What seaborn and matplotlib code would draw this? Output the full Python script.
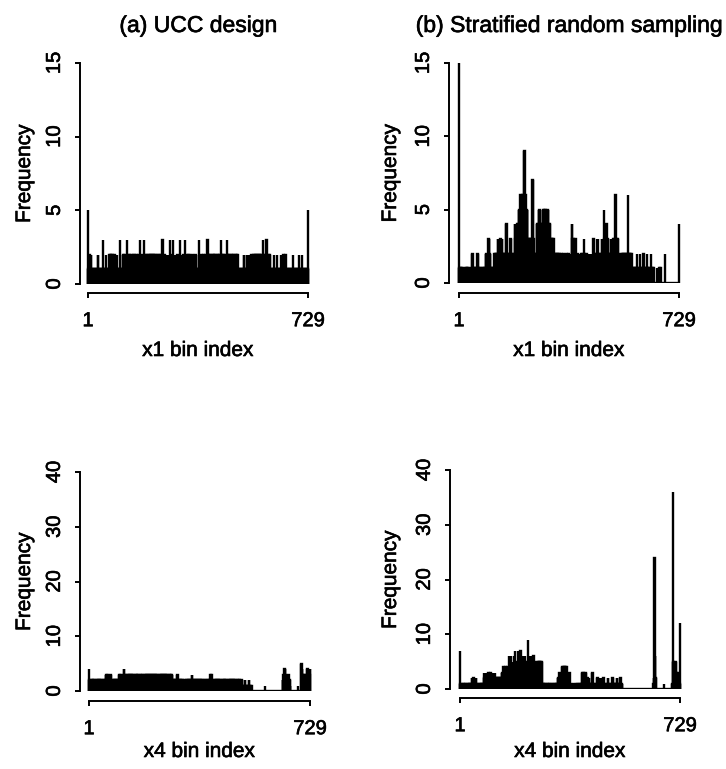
import numpy as np
import pandas as pd
import matplotlib
matplotlib.use("Agg")
import matplotlib.pyplot as plt
import matplotlib.patheffects as pe
import seaborn as sns

N_BINS = 729

# Bin frequencies, run-length encoded: (first bin of run, frequency)
ucc_x1_runs = [
    (1, 5), (2, 1), (5, 2), (8, 1), (10, 2), (12, 1), (33, 2), (35, 1), (50, 3), (51, 1),
    (60, 2), (61, 1), (72, 2), (76, 1), (79, 2), (83, 1), (86, 2), (90, 1), (98, 2), (99, 1),
    (107, 3), (108, 1), (116, 2), (119, 1), (121, 2), (123, 1), (129, 3), (130, 1), (135, 2),
    (140, 1), (143, 2), (148, 1), (151, 2), (156, 1), (159, 2), (162, 1), (168, 2), (170, 1),
    (173, 3), (174, 1), (176, 2), (180, 1), (186, 3), (187, 1), (189, 2), (198, 1), (200, 2),
    (212, 1), (214, 2), (226, 1), (229, 2), (238, 1), (240, 2), (245, 1), (248, 3), (249, 1),
    (253, 2), (256, 1), (262, 2), (264, 1), (268, 2), (270, 1), (272, 3), (273, 1), (277, 2),
    (280, 1), (283, 3), (284, 1), (288, 2), (290, 1), (296, 2), (298, 1), (305, 3), (306, 1),
    (311, 2), (313, 1), (317, 2), (319, 1), (322, 3), (323, 1), (326, 2), (328, 1), (334, 2),
    (340, 1), (344, 2), (350, 1), (355, 2), (360, 1), (369, 3), (370, 1), (374, 2), (378, 1),
    (381, 2), (385, 1), (388, 2), (393, 1), (396, 3), (397, 1), (399, 2), (410, 1), (412, 2),
    (425, 1), (427, 2), (438, 1), (440, 3), (441, 1), (443, 2), (452, 1), (455, 2), (459, 1),
    (460, 3), (461, 1), (463, 2), (472, 1), (474, 2), (486, 1), (488, 2), (497, 1), (517, 2),
    (519, 1), (526, 2), (528, 1), (533, 2), (535, 1), (540, 2), (545, 1), (547, 2), (556, 1),
    (558, 2), (566, 1), (569, 2), (578, 1), (581, 3), (582, 1), (584, 2), (589, 1), (592, 3),
    (593, 1), (598, 2), (604, 1), (617, 2), (618, 1), (626, 2), (627, 1), (639, 2), (640, 1),
    (648, 2), (649, 1), (655, 2), (656, 1), (680, 2), (681, 1), (700, 2), (701, 1), (708, 2),
    (709, 1), (729, 5),
]

srs_x1_runs = [
    (1, 15), (2, 1), (15, 0), (20, 1), (36, 0), (40, 1), (45, 2), (47, 1), (62, 2), (64, 1),
    (74, 0), (78, 1), (90, 2), (93, 1), (97, 2), (99, 3), (102, 2), (105, 1), (118, 2),
    (130, 3), (132, 2), (137, 3), (139, 2), (143, 3), (145, 2), (150, 1), (152, 2), (157, 4),
    (159, 2), (166, 1), (168, 2), (171, 3), (173, 2), (180, 1), (182, 2), (186, 4), (188, 3),
    (195, 4), (199, 5), (205, 6), (208, 5), (210, 6), (217, 9), (219, 6), (222, 5), (228, 3),
    (244, 7), (246, 3), (249, 2), (259, 4), (265, 5), (271, 4), (281, 5), (289, 4), (293, 5),
    (297, 4), (302, 3), (315, 2), (335, 1), (340, 2), (342, 1), (347, 2), (349, 1), (356, 2),
    (358, 1), (362, 2), (364, 1), (368, 2), (370, 1), (375, 4), (377, 3), (381, 2), (383, 1),
    (387, 3), (388, 1), (393, 2), (395, 1), (398, 2), (400, 1), (405, 2), (407, 1), (410, 2),
    (412, 1), (415, 3), (416, 2), (418, 1), (423, 2), (425, 1), (428, 2), (430, 1), (434, 2),
    (436, 1), (440, 2), (442, 1), (446, 3), (447, 2), (450, 1), (454, 2), (457, 3), (458, 2),
    (461, 3), (462, 2), (466, 1), (468, 2), (474, 3), (476, 2), (481, 5), (482, 3), (485, 4),
    (486, 2), (489, 4), (490, 3), (494, 2), (503, 3), (505, 2), (510, 3), (519, 6), (520, 3),
    (527, 2), (531, 0), (533, 1), (536, 2), (560, 6), (561, 2), (573, 1), (590, 2), (591, 1),
    (598, 0), (601, 2), (602, 1), (612, 2), (613, 1), (622, 2), (623, 1), (633, 0), (637, 2),
    (638, 1), (646, 0), (657, 1), (658, 0), (664, 1), (665, 0), (668, 1), (669, 0), (682, 2),
    (683, 0), (729, 4),
]

ucc_x4_runs = [
    (1, 4), (2, 2), (6, 1), (8, 2), (14, 1), (16, 2), (22, 1), (24, 2), (30, 1), (31, 2),
    (37, 1), (39, 2), (45, 1), (47, 2), (57, 3), (60, 2), (62, 3), (64, 2), (72, 3), (74, 1),
    (76, 2), (86, 1), (88, 2), (100, 3), (103, 2), (105, 3), (107, 2), (112, 3), (116, 4),
    (118, 3), (124, 2), (127, 3), (135, 2), (138, 3), (150, 2), (152, 3), (167, 2), (169, 3),
    (181, 2), (183, 3), (198, 2), (200, 3), (214, 2), (216, 3), (230, 2), (232, 3), (247, 2),
    (249, 3), (262, 2), (264, 3), (276, 2), (292, 3), (294, 2), (300, 1), (302, 2), (310, 1),
    (313, 2), (318, 1), (320, 2), (340, 3), (342, 2), (350, 1), (352, 2), (366, 1), (368, 2),
    (378, 1), (380, 2), (388, 1), (391, 2), (401, 3), (406, 2), (410, 1), (413, 2), (436, 1),
    (438, 2), (455, 1), (458, 2), (472, 1), (474, 2), (487, 1), (490, 2), (500, 1), (503, 2),
    (505, 1), (515, 2), (517, 1), (527, 2), (529, 1), (537, 0), (580, 1), (581, 0), (639, 2),
    (642, 3), (645, 4), (648, 3), (652, 2), (656, 3), (659, 2), (663, 1), (665, 0), (690, 1),
    (691, 0), (700, 5), (702, 4), (704, 3), (712, 2), (715, 3), (720, 4), (723, 3), (728, 4),
]

srs_x4_runs = [
    (1, 7), (2, 1), (9, 0), (12, 1), (22, 0), (25, 1), (40, 2), (42, 1), (46, 2), (48, 1),
    (54, 2), (56, 1), (60, 0), (63, 1), (80, 3), (81, 2), (88, 3), (89, 2), (95, 3), (96, 2),
    (102, 3), (103, 2), (111, 3), (112, 2), (116, 3), (117, 2), (140, 3), (145, 4), (146, 3),
    (152, 4), (153, 3), (156, 2), (158, 4), (159, 3), (163, 6), (164, 3), (167, 4), (170, 6),
    (171, 3), (174, 4), (176, 5), (177, 3), (180, 6), (181, 4), (184, 7), (185, 4), (188, 5),
    (190, 3), (192, 7), (193, 4), (197, 6), (198, 4), (201, 7), (202, 4), (205, 5), (207, 3),
    (210, 6), (211, 4), (214, 5), (216, 6), (217, 3), (220, 5), (222, 4), (226, 9), (227, 4),
    (230, 6), (231, 3), (234, 5), (236, 6), (237, 3), (240, 5), (242, 4), (244, 6), (245, 3),
    (248, 5), (249, 3), (252, 5), (253, 4), (256, 5), (262, 4), (264, 5), (273, 1),
    (285, 0), (288, 1), (300, 0), (303, 1), (310, 0), (313, 1), (325, 2), (330, 3), (334, 2),
    (339, 4), (354, 3), (357, 2), (362, 3), (364, 1), (370, 0), (374, 1), (380, 0), (384, 1),
    (393, 0), (396, 1), (405, 3), (407, 1), (410, 3), (412, 2), (416, 3), (418, 1), (423, 2),
    (425, 1), (428, 2), (430, 1), (438, 3), (440, 1), (445, 0), (448, 1), (455, 2), (457, 1),
    (460, 2), (462, 1), (467, 2), (469, 1), (475, 2), (477, 1), (482, 0), (485, 1), (490, 2),
    (492, 1), (498, 0), (502, 1), (506, 2), (508, 1), (520, 2), (522, 1), (531, 2), (533, 1),
    (538, 0), (641, 1), (643, 2), (645, 24), (646, 6), (648, 2), (650, 0), (677, 1), (678, 0),
    (703, 1), (705, 36), (706, 5), (710, 4), (713, 5), (716, 3), (720, 2), (723, 3), (727, 1),
    (729, 12),
]

panel_titles = ["(a) UCC design", "(b) Stratified random sampling", None, None]
x_labels = ["x1 bin index", "x1 bin index", "x4 bin index", "x4 bin index"]
y_label = "Frequency"
y_ticks_x1 = [0, 5, 10, 15]
y_ticks_x4 = [0, 10, 20, 30, 40]
x_ticks = [1, 729]
x_tick_labels = ["1", "729"]


def expand_runs(runs):
    runs = sorted(runs)
    starts = [s for s, _ in runs] + [N_BINS + 1]
    counts = [c for _, c in runs]
    return np.repeat(counts, np.diff(starts))


sns.set_style("ticks")
plt.rcParams["font.family"] = ["Liberation Sans", "DejaVu Sans"]
plt.rcParams["axes.edgecolor"] = "black"
plt.rcParams["xtick.color"] = "black"
plt.rcParams["ytick.color"] = "black"
plt.rcParams["text.color"] = "black"
plt.rcParams["axes.labelcolor"] = "black"

W, H = 726, 769
fig = plt.figure(figsize=(W / 100, H / 100), dpi=100)

# Panel geometry in pixels: bin 1 / bin 729 positions, zero line, top tick,
# left spine, bottom spine, y-label anchor, x-label top.
layout = [
    dict(x1=88, x2=308, y0=284, yt=63, sl=80, sb=293, yl=34, xl=341),
    dict(x1=459, x2=679, y0=283, yt=63, sl=449, sb=293, yl=400, xl=341),
    dict(x1=89, x2=310, y0=691, yt=472, sl=80, sb=701, yl=34, xl=742),
    dict(x1=460, x2=680, y0=689, yt=470, sl=450, sb=698, yl=400, xl=742),
]
series = [ucc_x1_runs, srs_x1_runs, ucc_x4_runs, srs_x4_runs]
yticks_list = [y_ticks_x1, y_ticks_x1, y_ticks_x4, y_ticks_x4]
heavy = [pe.withStroke(linewidth=0.45, foreground="black")]

for i in range(4):
    g = layout[i]
    ticks = yticks_list[i]
    top_val = ticks[-1]
    px_per_unit = (g["y0"] - g["yt"]) / top_val
    ylim_top = top_val * 1.035
    top_px = g["y0"] - ylim_top * px_per_unit
    left_px, right_px = g["x1"] - 3, g["x2"] + 3
    px_per_bin = (g["x2"] - g["x1"]) / (N_BINS - 1)
    xpad = 3 / px_per_bin

    ax = fig.add_axes([left_px / W, 1 - g["y0"] / H,
                       (right_px - left_px) / W, (g["y0"] - top_px) / H])

    df = pd.DataFrame({"bin": np.arange(1, N_BINS + 1),
                       "freq": expand_runs(series[i])})
    sns.histplot(data=df, x="bin", weights="freq", discrete=True,
                 color="black", edgecolor="black", linewidth=1.7, alpha=1,
                 ax=ax)

    ax.set_xlim(1 - xpad, N_BINS + xpad)
    ax.set_ylim(0, ylim_top)
    ax.set_xticks(x_ticks)
    ax.set_yticks(ticks)

    sns.despine(ax=ax, offset={"left": (left_px - g["sl"]) * 0.72,
                               "bottom": (g["sb"] - g["y0"]) * 0.72},
                trim=True)
    for side in ("left", "bottom"):
        ax.spines[side].set_linewidth(1.4)

    ax.set_xticks(x_ticks, labels=x_tick_labels)
    ax.set_yticks(ticks, labels=[str(t) for t in ticks])
    ax.tick_params(axis="both", direction="out", length=3.6, width=1.4,
                   labelsize=14.5)
    ax.tick_params(axis="x", pad=9.5)
    ax.tick_params(axis="y", pad=8, labelrotation=90)
    for lbl in ax.get_yticklabels():
        lbl.set_va("center")
        lbl.set_path_effects(heavy)
    for lbl in ax.get_xticklabels():
        lbl.set_path_effects(heavy)

    wpx = right_px - left_px
    hpx = g["y0"] - top_px
    ax.set_xlabel(x_labels[i], fontsize=15)
    ax.xaxis.set_label_coords(((g["x1"] + g["x2"]) / 2 - left_px) / wpx,
                              (g["y0"] - g["xl"]) / hpx)
    ax.set_ylabel(y_label, fontsize=15)
    ax.yaxis.set_label_coords((g["yl"] - left_px) / wpx,
                              (g["y0"] - (g["y0"] + g["yt"]) / 2) / hpx)
    ax.xaxis.label.set_path_effects(heavy)
    ax.yaxis.label.set_path_effects(heavy)

    if panel_titles[i]:
        t = ax.set_title(panel_titles[i], fontsize=16.5,
                         y=(g["y0"] - 32) / hpx, pad=0)
        t.set_path_effects(heavy)

fig.savefig("out.png", dpi=100, facecolor="white")
